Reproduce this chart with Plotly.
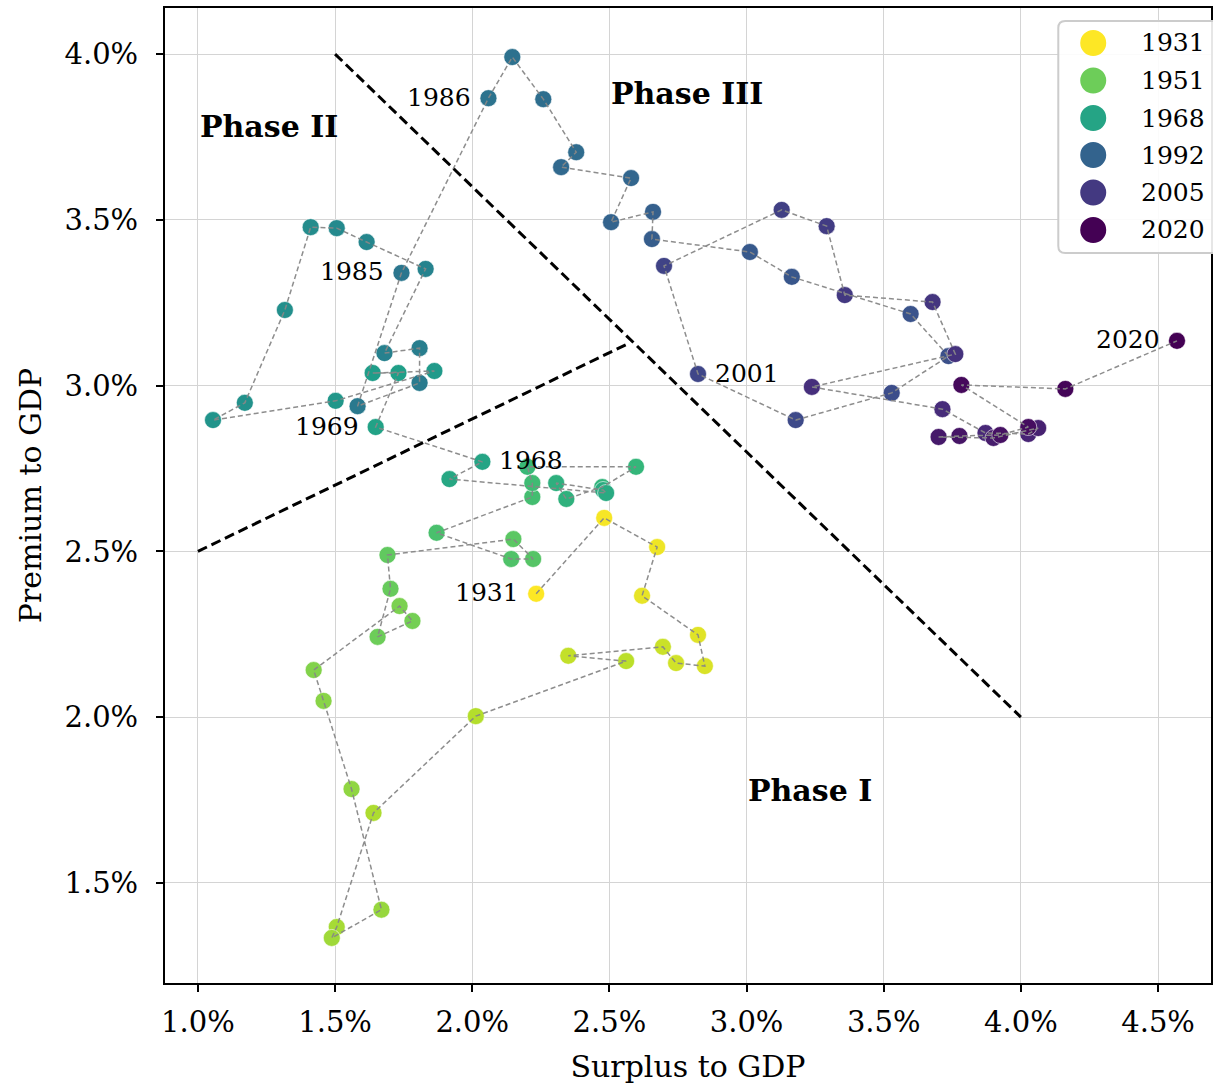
import plotly.graph_objects as go
from plotly.colors import sample_colorscale
import plotly.colors as pc

years = list(range(1931, 2021))

surplus = [
    2.233, 2.481, 2.674, 2.619, 2.823, 2.848, 2.743, 2.695, 2.350, 2.561,  # 1931-1940
    2.013, 1.640, 1.506, 1.488, 1.669, 1.560, 1.458, 1.422, 1.735, 1.782,  # 1941-1950
    1.655, 1.702, 1.691, 2.150, 2.222, 2.142, 1.870, 2.219, 2.219, 2.201,  # 1951-1960
    2.597, 2.474, 2.343, 2.306, 2.477, 2.488, 1.917, 2.037, 1.648, 1.731,  # 1961-1970
    1.637, 1.862, 1.502, 1.055, 1.171, 1.317, 1.411, 1.506, 1.615, 1.830,  # 1971-1980
    1.680, 1.808, 1.808, 1.582, 1.742, 2.059, 2.146, 2.259, 2.379, 2.324,  # 1981-1990
    2.579, 2.506, 2.659, 2.655, 3.012, 3.165, 3.598, 3.736, 3.529, 3.179,  # 1991-2000
    2.823, 2.699, 3.128, 3.292, 3.358, 3.678, 3.761, 3.238, 3.714, 3.871,  # 2001-2010
    4.027, 4.063, 3.900, 3.700, 3.776, 3.925, 4.027, 3.783, 4.162, 4.569,  # 2011-2020
]

premium = [
    2.372, 2.601, 2.513, 2.366, 2.248, 2.154, 2.163, 2.212, 2.185, 2.169,  # 1931-1940
    2.003, 1.711, 1.367, 1.334, 1.419, 1.783, 2.049, 2.142, 2.335, 2.290,  # 1941-1950
    2.242, 2.387, 2.489, 2.537, 2.477, 2.477, 2.556, 2.664, 2.706, 2.755,  # 1951-1960
    2.755, 2.694, 2.658, 2.706, 2.685, 2.676, 2.718, 2.770, 2.875, 3.038,  # 1961-1970
    3.038, 3.044, 2.954, 2.896, 2.948, 3.228, 3.478, 3.475, 3.433, 3.352,  # 1971-1980
    3.098, 3.113, 3.008, 2.938, 3.340, 3.867, 3.991, 3.864, 3.704, 3.659,  # 1981-1990
    3.626, 3.493, 3.524, 3.442, 3.403, 3.328, 3.216, 3.089, 2.978, 2.896,  # 1991-2000
    3.035, 3.361, 3.530, 3.481, 3.273, 3.252, 3.095, 2.996, 2.929, 2.857,  # 2001-2010
    2.854, 2.872, 2.842, 2.845, 2.848, 2.851, 2.875, 3.002, 2.990, 3.135,  # 2011-2020
]

legend_years = [1931, 1951, 1968, 1992, 2005, 2020]
labelled_years = [1931, 1968, 1969, 1985, 1986, 2001, 2020]
label_side = ["left", "right", "left", "left", "left", "right", "left"]

phase_names = ["Phase I", "Phase II", "Phase III"]
phase_x = [3.230, 1.258, 2.783]
phase_y = [1.780, 3.783, 3.882]

boundary1_x = [1.0, 2.572]
boundary1_y = [2.5, 3.128]
boundary2_x = [1.5, 4.0]
boundary2_y = [4.0, 2.0]

x_ticks = [1.0, 1.5, 2.0, 2.5, 3.0, 3.5, 4.0, 4.5]
y_ticks = [1.5, 2.0, 2.5, 3.0, 3.5, 4.0]

FONT = "DejaVu Serif"
y0, y1 = min(years), max(years)


def year_color(yr):
    t = (y1 - yr) / (y1 - y0)
    return sample_colorscale(pc.sequential.Viridis, [t])[0]


colors = [year_color(y) for y in years]

fig = go.Figure()

# markers
fig.add_trace(go.Scatter(
    x=surplus, y=premium, mode="markers",
    marker=dict(size=17, color=colors, line=dict(color="white", width=0.6)),
    showlegend=False, hoverinfo="skip",
))
# connecting dashed path
fig.add_trace(go.Scatter(
    x=surplus, y=premium, mode="lines",
    line=dict(color="rgba(135,135,135,0.95)", width=1.5, dash="5px,3px"),
    showlegend=False, hoverinfo="skip",
))
# phase boundaries
for bx, by in [(boundary1_x, boundary1_y), (boundary2_x, boundary2_y)]:
    fig.add_trace(go.Scatter(
        x=bx, y=by, mode="lines",
        line=dict(color="black", width=3, dash="10px,5px"),
        showlegend=False, hoverinfo="skip",
    ))

annotations = []
for yr, side in zip(labelled_years, label_side):
    i = years.index(yr)
    annotations.append(dict(
        x=surplus[i], y=premium[i], xref="x", yref="y", text=str(yr),
        showarrow=False, font=dict(family=FONT, size=25, color="black"),
        xanchor="right" if side == "left" else "left",
        xshift=-15 if side == "left" else 15, yanchor="middle", yshift=1,
    ))
for name, px_, py_ in zip(phase_names, phase_x, phase_y):
    annotations.append(dict(
        x=px_, y=py_, xref="x", yref="y", text=f"<b>{name}</b>",
        showarrow=False, font=dict(family=FONT, size=30, color="black"),
        xanchor="center", yanchor="middle",
    ))

# manual legend
W, H = 1213, 1086
ml, mr, mt, mb = 165, 0, 8, 103
pw, ph = W - ml - mr, H - mt - mb


def px2paper(xp, yp):
    return (xp - ml) / pw, 1 - (yp - mt) / ph


shapes = []
lx0, ly0 = px2paper(1060, 21)
lx1, ly1 = px2paper(1240, 253)
r_x, r_y = 7 / pw, 7 / ph
path = (f"M {lx0 + r_x},{ly0} L {lx1},{ly0} L {lx1},{ly1} L {lx0 + r_x},{ly1} "
        f"Q {lx0},{ly1} {lx0},{ly1 + r_y} L {lx0},{ly0 - r_y} Q {lx0},{ly0} {lx0 + r_x},{ly0} Z")
shapes.append(dict(type="path", xref="paper", yref="paper", path=path,
                   line=dict(color="#cccccc", width=2), fillcolor="rgba(255,255,255,0.9)",
                   layer="above"))
entry_y = [43, 80.5, 118, 155, 192.5, 230]
for yr, ey in zip(legend_years, entry_y):
    cx, cy = px2paper(1095, ey)
    shapes.append(dict(type="circle", xref="paper", yref="paper",
                       xsizemode="pixel", ysizemode="pixel", xanchor=cx, yanchor=cy,
                       x0=-13, x1=13, y0=-13, y1=13,
                       fillcolor=year_color(yr), line=dict(width=0), layer="above"))
    tx, ty = px2paper(1141, ey)
    annotations.append(dict(x=tx, y=ty, xref="paper", yref="paper", text=str(yr),
                            showarrow=False, xanchor="left", yanchor="middle",
                            font=dict(family=FONT, size=25, color="black")))

fig.update_layout(
    width=W, height=H,
    margin=dict(l=ml, r=mr, t=mt, b=mb),
    plot_bgcolor="white", paper_bgcolor="white",
    font=dict(family=FONT, color="black"),
    annotations=annotations, shapes=shapes,
    showlegend=False,
)
fig.update_xaxes(
    range=[0.880, 4.693], tickvals=x_ticks, ticktext=[f"{v:.1f}%" for v in x_ticks],
    showgrid=True, gridcolor="#d4d4d4", gridwidth=1, zeroline=False,
    showline=True, linecolor="black", linewidth=2, mirror=True,
    ticks="outside", ticklen=7, tickwidth=1.5, tickcolor="black",
    tickfont=dict(family=FONT, size=29), ticklabelstandoff=5,
    title=dict(text="Surplus to GDP", font=dict(family=FONT, size=30), standoff=18),
)
fig.update_yaxes(
    range=[1.198, 4.139], tickvals=y_ticks, ticktext=[f"{v:.1f}%" for v in y_ticks],
    showgrid=True, gridcolor="#d4d4d4", gridwidth=1, zeroline=False,
    showline=True, linecolor="black", linewidth=2, mirror=True,
    ticks="outside", ticklen=7, tickwidth=1.5, tickcolor="black",
    tickfont=dict(family=FONT, size=29), ticklabelstandoff=12,
    title=dict(text="Premium to GDP", font=dict(family=FONT, size=30), standoff=14),
)

fig.write_html(
    "out.html",
    config={"displayModeBar": False},
    post_script="document.body.style.margin='0';document.body.style.overflow='hidden';",
)
